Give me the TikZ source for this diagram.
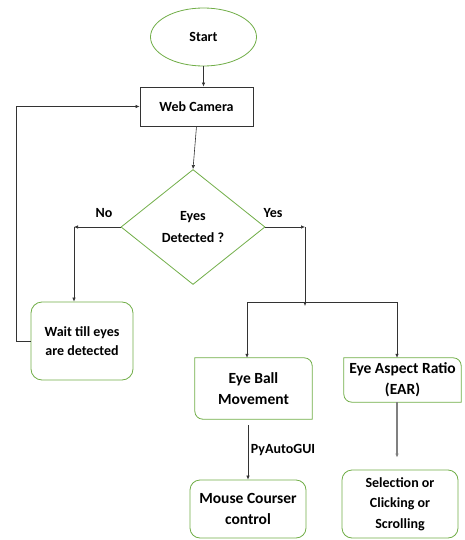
\documentclass[tikz,border=0pt]{standalone}
\usepackage{fontspec}
\setmainfont{Carlito}
\usetikzlibrary{shapes.geometric,arrows.meta}
\definecolor{boxgreen}{HTML}{70AD47}
\newcommand{\diagcorners}[1]{%
  \draw[boxgreen, thick] (#1.west) -- (#1.north west) [rounded corners=8pt] -- (#1.north east)
    [sharp corners] -- (#1.south east) [rounded corners=8pt] -- (#1.south west) [sharp corners] -- cycle;}

\begin{document}
\begin{tikzpicture}[x=1pt, y=-1pt]
                \tikzstyle{txt}=[font=\fontsize{14}{20.5}\selectfont\bfseries, align=center]
                \tikzstyle{bigtxt}=[font=\fontsize{15.5}{21}\selectfont\bfseries]
                \tikzstyle{gbox}=[txt, draw=boxgreen, thick, rounded corners=11pt, inner sep=0pt]
                \tikzstyle{plain}=[txt, inner sep=0pt]
                \tikzstyle{arr}=[-{Latex[length=4pt,width=3.5pt]}, black!80, semithick]
                \useasboundingbox (0,0) rectangle (465,540);

                \node[txt, ellipse, draw=boxgreen, thick, minimum width=106pt, minimum height=58pt] (start) at (203.5,37) {Start};
                \node[txt, draw=black!80, thick, minimum width=113pt, minimum height=39pt] (cam) at (196.5,106.5) {Web Camera};
                \node[txt, diamond, draw=boxgreen, thick, aspect=1.25, minimum width=144pt, minimum height=115pt, inner sep=0pt, font=\fontsize{14}{22}\selectfont\bfseries] (dia) at (193,227) {Eyes\\Detected ?};
                \node[gbox, minimum width=102pt, minimum height=78pt, font=\fontsize{14}{19}\selectfont\bfseries] (wait) at (82,341) {Wait till eyes\\are detected};
                \node[plain, bigtxt, minimum width=117pt, minimum height=61pt] (ebm) at (253.5,388.5) {Eye Ball\\Movement};
                \node[plain, bigtxt, minimum width=117pt, minimum height=44pt] (ear) at (402.5,380) {Eye Aspect Ratio\\(EAR)};
                \node[gbox, bigtxt, rounded corners=10pt, minimum width=116pt, minimum height=58pt] (mouse) at (248,509) {Mouse Courser\\control};
                \node[gbox, rounded corners=10pt, minimum width=116pt, minimum height=68pt] (sel) at (400,504) {Selection or\\Clicking or\\Scrolling};
                \diagcorners{ebm}
                \diagcorners{ear}

                \node[txt] (no) at (104,213) {No};
                \node[txt] (yes) at (273,213) {Yes};
                \node[txt] (pyg) at (283,450) {PyAutoGUI};

                \coordinate (nocorner) at (74,227);
                \coordinate (yescorner) at (305,227);
                \coordinate (split) at (305,302);
                \coordinate (splitl) at (247,302);
                \coordinate (splitr) at (397,302);

                \draw[arr] (start.south) -- (start.south |- cam.north);
                \draw[arr] (cam.south) -- (dia.north);
                \draw[arr] (dia.west) -- (nocorner);
                \draw[arr] (nocorner) -- (nocorner |- wait.north);
                \draw[arr] (dia.east) -- (yescorner);
                \draw[arr] (yescorner) -- ([yshift=-4pt]split);
                \draw[black!80, semithick] (splitl) -- (splitr);
                \draw[arr] (splitl) -- (splitl |- ebm.north);
                \draw[arr] (splitr) -- (splitr |- ear.north);
                \draw[arr] ([yshift=-6pt]mouse.north |- ebm.south) -- (mouse.north);
                \draw[-{Latex[length=4pt,width=3.5pt]}, black!50, line width=1.3pt, shorten >=12pt] (splitr |- ear.south) -- (splitr |- sel.north);
                \draw[arr] (wait.west) -- ++(-14,0) |- (cam.west);
            \end{tikzpicture}
\end{document}
